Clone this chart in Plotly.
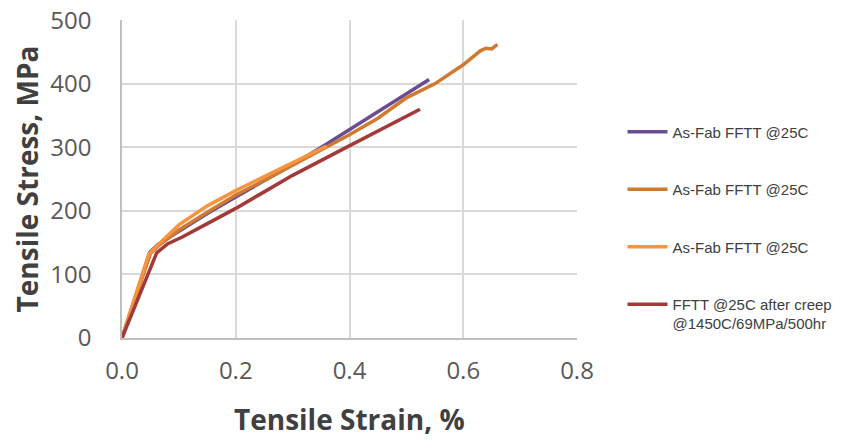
import plotly.graph_objects as go

names = ["As-Fab FFTT @25C", "As-Fab FFTT @25C", "As-Fab FFTT @25C",
         "FFTT @25C after creep<br>@1450C/69MPa/500hr"]
colors = ["#6A4C93", "#D07A30", "#F7943F", "#A33A3A"]
x_title = "<b>Tensile Strain, %</b>"
y_title = "<b>Tensile Stress, MPa</b>"

purple_x = [0.0, 0.049, 0.063, 0.1, 0.15, 0.2, 0.25, 0.3, 0.35, 0.4, 0.45, 0.5, 0.54]
purple_y = [0, 135, 147, 168, 196, 222, 247, 273, 300, 328, 356, 383, 407]

orange_x = [0.0, 0.05, 0.065, 0.1, 0.15, 0.2, 0.25, 0.3, 0.36, 0.4, 0.45, 0.5, 0.55, 0.6, 0.63, 0.64, 0.65, 0.66]
orange_y = [0, 133, 146, 170, 198, 225, 248, 272, 302, 320, 346, 378, 400, 430, 452, 456, 455, 462]

light_x = [0.0, 0.047, 0.065, 0.1, 0.15, 0.2, 0.25, 0.3, 0.36]
light_y = [0, 132, 148, 178, 208, 232, 254, 276, 302]

red_x = [0.0, 0.061, 0.08, 0.106, 0.15, 0.2, 0.25, 0.3, 0.375, 0.45, 0.524]
red_y = [0, 134, 148, 159, 180, 204, 230, 256, 291, 326, 360]

series_x = [purple_x, orange_x, light_x, red_x]
series_y = [purple_y, orange_y, light_y, red_y]

fig = go.Figure()
for i in range(4):
    fig.add_trace(go.Scatter(x=series_x[i], y=series_y[i], mode="lines", name=names[i],
                             legendgroup=f"g{i}",
                             line=dict(color=colors[i], width=3.5)))

fig.update_layout(
    width=842, height=432,
    paper_bgcolor="white", plot_bgcolor="white",
    margin=dict(l=114, r=269, t=12, b=102),
    font=dict(family="Open Sans, Liberation Sans, sans-serif", color="#595959"),
    showlegend=True,
    legend=dict(x=1.10, y=0.70, xanchor="left", yanchor="top",
                tracegroupgap=35, itemwidth=40, valign="top",
                font=dict(size=15, color="#404040", family="Liberation Sans, sans-serif"),
                bgcolor="rgba(0,0,0,0)"),
    xaxis=dict(range=[0, 0.8], dtick=0.2, tickformat=".1f",
               showgrid=True, gridcolor="#D9D9D9", gridwidth=1.5,
               showline=True, linecolor="#BFBFBF", linewidth=1.5,
               zeroline=False, ticks="outside", ticklen=10, tickcolor="rgba(0,0,0,0)",
               automargin=False, ticklabeloverflow="allow",
               tickfont=dict(size=24, color="#595959")),
    yaxis=dict(range=[0, 500.5], dtick=100,
               showgrid=True, gridcolor="#D9D9D9", gridwidth=1.5,
               showline=True, linecolor="#BFBFBF", linewidth=1.5,
               zeroline=False, ticks="outside", ticklen=24, tickcolor="rgba(0,0,0,0)",
               automargin=False, ticklabeloverflow="allow",
               tickfont=dict(size=24, color="#595959"),
               title=dict(text=y_title, font=dict(size=28, color="#404040"), standoff=8)),
    annotations=[dict(text=x_title, xref="paper", yref="paper", x=0.5, y=-0.255,
                      xanchor="center", yanchor="middle", showarrow=False,
                      font=dict(size=28, color="#404040"))],
)
fig.write_html("out.html")
